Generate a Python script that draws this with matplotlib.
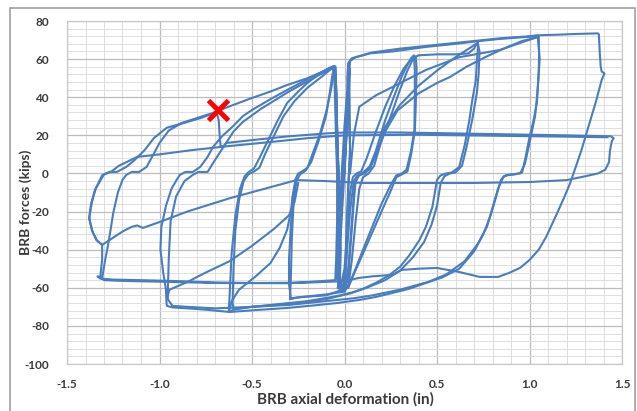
import numpy as np
import matplotlib
matplotlib.use('Agg')
import matplotlib.pyplot as plt
from matplotlib.patches import Rectangle
from matplotlib.ticker import MultipleLocator, FormatStrFormatter

# Force-deformation record of the BRB, one polyline per loading stage (in, kips)
elastic = [(0.0, 0), (0.01, 20), (0.02, 40), (0.025, 52), (0.02, 45), (0.005, 20),
           (-0.01, 0), (-0.02, -25), (-0.03, -45), (-0.035, -52), (-0.025, -40),
           (-0.01, -15), (0.005, 10), (0.02, 35), (0.03, 55), (0.02, 50), (0.0, 25),
           (-0.015, 0), (-0.03, -30), (-0.04, -55), (-0.02, -58)]

cycle_2a = [(-0.02, -58), (0.0, -60), (0.01, -45), (0.03, -20), (0.05, -4), (0.07, -1),
            (0.1, 0), (0.13, 2), (0.17, 12), (0.22, 28), (0.27, 41), (0.31, 51),
            (0.34, 57), (0.36, 60.5), (0.375, 62), (0.38, 55), (0.38, 40), (0.378, 23),
            (0.36, 12), (0.335, 2), (0.31, 0), (0.28, -1), (0.25, -6), (0.2, -16),
            (0.15, -28), (0.1, -40), (0.06, -50), (0.03, -57), (0.0, -62), (-0.1, -63.5),
            (-0.2, -64.5), (-0.29, -65.5), (-0.3, -58), (-0.3, -45), (-0.29, -28),
            (-0.28, -12), (-0.265, -3), (-0.25, 0), (-0.23, 1), (-0.2, 3), (-0.17, 11),
            (-0.135, 20), (-0.1, 32), (-0.075, 43), (-0.06, 51), (-0.05, 56),
            (-0.045, 45), (-0.04, 25), (-0.035, 5), (-0.03, -2), (-0.035, -20),
            (-0.04, -40), (-0.042, -55), (-0.02, -59)]

cycle_2b = [(-0.02, -59), (0.0, -62), (0.02, -50), (0.04, -25), (0.055, -6), (0.075, -1),
            (0.1, 0.5), (0.14, 4), (0.19, 15), (0.25, 30), (0.3, 44), (0.34, 54),
            (0.365, 59), (0.385, 61.5), (0.39, 55), (0.385, 35), (0.38, 22), (0.36, 10),
            (0.34, 1), (0.31, -0.5), (0.28, -2), (0.25, -9), (0.2, -20), (0.15, -31),
            (0.1, -42), (0.05, -53), (0.02, -60), (-0.1, -64), (-0.25, -65),
            (-0.295, -66), (-0.29, -55), (-0.285, -35), (-0.275, -15), (-0.26, -4),
            (-0.24, -0.5), (-0.21, 1.5), (-0.18, 6), (-0.14, 17), (-0.1, 30),
            (-0.08, 42), (-0.065, 52), (-0.055, 56), (-0.048, 52), (-0.043, 35),
            (-0.037, 12), (-0.03, -3), (-0.028, -25), (-0.03, -45), (-0.035, -60)]

cycle_3a = [(-0.035, -60), (-0.02, -59), (0.0, -50), (0.015, -30), (0.03, -10),
            (0.045, -2), (0.065, 0), (0.09, 1), (0.12, 8), (0.17, 22), (0.22, 35),
            (0.27, 46), (0.32, 55), (0.36, 60), (0.4, 62), (0.5, 62.5), (0.6, 62.5),
            (0.67, 63), (0.7, 65.5), (0.72, 69), (0.722, 67), (0.715, 58), (0.71, 49),
            (0.69, 38), (0.675, 28), (0.65, 15), (0.62, 3.4), (0.58, 0.5), (0.55, 0),
            (0.52, -1), (0.5, -3.4), (0.475, -17.6), (0.44, -28), (0.405, -35),
            (0.35, -43), (0.3, -49), (0.24, -53.5), (0.17, -57.4), (0.1, -60.5),
            (0.04, -62.5), (-0.05, -64.5), (-0.2, -67), (-0.35, -68.5), (-0.5, -70),
            (-0.6, -71.5), (-0.62, -72.5), (-0.625, -72), (-0.62, -62), (-0.61, -42),
            (-0.59, -22), (-0.565, -8), (-0.54, -1.5), (-0.515, 1), (-0.49, 2.5),
            (-0.46, 8), (-0.41, 18), (-0.36, 28), (-0.31, 37), (-0.25, 43),
            (-0.2, 47.5), (-0.14, 52), (-0.09, 55), (-0.055, 56.5), (-0.048, 52),
            (-0.043, 35), (-0.037, 12), (-0.03, -3), (-0.028, -25), (-0.03, -45),
            (-0.035, -60)]

cycle_3b = [(-0.035, -60), (0.02, -60), (0.04, -45), (0.06, -25), (0.08, -8), (0.1, -2),
            (0.13, 0), (0.16, 4), (0.19, 14), (0.216, 24), (0.3, 36), (0.4, 46),
            (0.5, 54), (0.6, 61), (0.68, 66), (0.72, 68.5), (0.73, 64), (0.725, 52),
            (0.715, 42), (0.69, 28), (0.66, 14), (0.635, 4), (0.6, 0.5), (0.57, 0),
            (0.54, -1.5), (0.52, -5), (0.5, -17), (0.47, -27), (0.43, -36), (0.37, -44),
            (0.3, -51), (0.22, -56), (0.12, -60), (0.03, -63), (-0.1, -66),
            (-0.3, -68.5), (-0.5, -70), (-0.6, -71), (-0.605, -68), (-0.6, -50),
            (-0.59, -30), (-0.57, -14), (-0.545, -4), (-0.52, -0.5), (-0.49, 1),
            (-0.46, 3), (-0.43, 10), (-0.38, 20), (-0.33, 30), (-0.27, 38), (-0.2, 45),
            (-0.12, 51), (-0.07, 55), (-0.05, 56), (-0.045, 45), (-0.04, 20),
            (-0.035, 0), (-0.03, -20), (-0.035, -45), (-0.035, -60)]

cycle_4a = [(-0.035, -60), (-0.01, -62), (0.005, -48), (0.012, -25), (0.02, -8),
            (0.025, 0), (0.03, 15), (0.02, 35), (0.015, 50), (0.02, 58), (0.04, 60.5),
            (0.1, 62), (0.135, 63), (0.26, 64), (0.44, 66.4), (0.6, 68), (0.71, 69.3),
            (0.83, 70.5), (0.95, 71.4), (1.04, 72), (1.05, 72), (1.052, 63),
            (1.05, 54), (1.04, 37), (1.02, 27), (1.0, 19), (0.98, 9), (0.96, 0.5),
            (0.92, -0.5), (0.87, -1), (0.845, -3.4), (0.82, -12), (0.79, -22),
            (0.75, -32), (0.7, -41), (0.62, -50), (0.53, -54.5), (0.44, -57.5),
            (0.35, -60.5), (0.26, -62.7), (0.17, -64.8), (0.08, -66.4), (-0.04, -68),
            (-0.17, -69.3), (-0.31, -70.6), (-0.45, -71.5), (-0.62, -72.7),
            (-0.75, -71.5), (-0.85, -70.8), (-0.93, -70.3), (-0.96, -69.5),
            (-0.962, -68), (-0.965, -61), (-0.98, -52), (-0.995, -40), (-0.99, -28),
            (-0.965, -17), (-0.935, -8), (-0.905, -3), (-0.89, -0.8), (-0.86, 0.8),
            (-0.82, 0.8), (-0.78, 3.4), (-0.74, 8.7), (-0.71, 14), (-0.66, 19.7),
            (-0.6, 25), (-0.55, 30), (-0.5, 33.3), (-0.4, 39), (-0.31, 43.8),
            (-0.2, 49.5), (-0.1, 54.3), (-0.06, 56), (-0.05, 52), (-0.046, 30),
            (-0.04, 8), (-0.035, -2), (-0.025, -20), (-0.02, -40), (-0.025, -57)]

cycle_4b = [(-0.025, -57), (0.0, -61), (0.02, -55), (0.035, -35), (0.05, -15),
            (0.06, -4), (0.08, -1), (0.11, 0), (0.14, 3), (0.18, 12), (0.22, 22),
            (0.286, 33), (0.4, 42), (0.5, 47.5), (0.57, 50.6), (0.66, 56), (0.76, 61),
            (0.86, 65.5), (0.96, 69.5), (1.045, 71.5), (1.055, 60), (1.045, 45),
            (1.03, 30), (1.0, 16), (0.975, 5), (0.95, 0), (0.9, -0.5), (0.86, -1.5),
            (0.83, -8), (0.8, -18), (0.77, -28), (0.72, -37), (0.65, -46), (0.55, -53),
            (0.45, -57), (0.3, -61), (0.15, -64), (0.05, -65.5), (-0.1, -67),
            (-0.3, -69), (-0.5, -70), (-0.7, -70.8), (-0.85, -70), (-0.93, -69.5),
            (-0.955, -66), (-0.955, -62), (-0.95, -45), (-0.94, -25), (-0.91, -12),
            (-0.865, -4), (-0.82, -0.8), (-0.79, 0.8), (-0.74, 0.8), (-0.71, 5.5),
            (-0.675, 10.8), (-0.64, 16), (-0.6, 22), (-0.55, 27), (-0.45, 34),
            (-0.3, 43), (-0.15, 51), (-0.07, 55), (-0.05, 56), (-0.045, 40),
            (-0.04, 15), (-0.035, -5), (-0.03, -30), (-0.03, -58)]

cycle_4c = [(0.03, 0), (0.05, 20), (0.08, 35), (0.17, 41), (0.26, 45.4), (0.44, 54.3),
            (0.62, 61), (0.84, 64.8), (0.95, 68.5), (1.04, 71.5)]

cycle_5 = [(-0.03, -58), (0.0, -60), (0.01, -45), (0.018, -20), (0.022, -3),
           (0.03, 10), (0.028, 35), (0.025, 52), (0.03, 59), (0.06, 61), (0.15, 63.5),
           (0.3, 65.5), (0.5, 67.5), (0.7, 69.5), (0.85, 71), (1.0, 72), (1.04, 72.5),
           (1.15, 72.8), (1.25, 73.2), (1.37, 73.5), (1.375, 73), (1.38, 63),
           (1.385, 56), (1.39, 53.5), (1.405, 52.5), (1.39, 49), (1.36, 38),
           (1.32, 25), (1.28, 12), (1.245, 2), (1.22, -5), (1.19, -12), (1.15, -20.7),
           (1.09, -33.3), (1.05, -40), (1.0, -45.4), (0.95, -49.5), (0.89, -52.2),
           (0.83, -54.3), (0.73, -54.3), (0.62, -51.7), (0.5, -49.6), (0.4, -50),
           (0.31, -50.6), (0.26, -53.2), (0.15, -54), (0.08, -54.8), (0.0, -56.5),
           (-0.2, -57.3), (-0.5, -57.5), (-0.7, -57.2), (-0.9, -56.5), (-1.1, -56),
           (-1.25, -55.7), (-1.32, -55.2), (-1.335, -54), (-1.31, -55),
           (-1.295, -46), (-1.28, -38.6), (-1.265, -30), (-1.25, -20.7),
           (-1.225, -10), (-1.2, -3.4), (-1.18, -0.8), (-1.15, 0.8), (-1.11, 0.8),
           (-1.07, 3.4), (-1.04, 8.7), (-1.0, 16), (-0.95, 22.5), (-0.88, 26.5),
           (-0.8, 29), (-0.72, 31.5), (-0.6, 36), (-0.5, 39.6), (-0.4, 43),
           (-0.31, 46.4), (-0.2, 50), (-0.135, 52.7), (-0.065, 56), (-0.055, 52),
           (-0.05, 35), (-0.045, 15), (-0.04, 0), (-0.04, -25), (-0.045, -45),
           (-0.05, -56), (-0.3, -57.6), (-0.7, -57.5), (-1.0, -56.8), (-1.2, -56.4),
           (-1.3, -56), (-1.32, -54), (-1.31, -45), (-1.31, -37.5), (-1.34, -35),
           (-1.36, -31), (-1.38, -24), (-1.37, -16), (-1.35, -9), (-1.31, -1),
           (-1.27, 0.8), (-1.23, 0.8), (-1.18, 3.4), (-1.135, 7), (-1.08, 12.3),
           (-1.03, 18.6), (-0.96, 24), (-0.85, 27), (-0.78, 29), (-0.73, 30.7),
           (-0.69, 31.5)]

after_fracture = [(-0.69, 31.5), (-0.68, 28), (-0.675, 20), (-0.67, 14.5), (-0.655, 14.2),
                  (-0.64, 16), (-0.5, 17.5), (-0.3, 19.5), (-0.1, 21), (0.0, 21.5),
                  (0.3, 21.5), (0.6, 21), (0.9, 20.5), (1.2, 20), (1.44, 19.5),
                  (1.455, 18.5), (1.445, 17), (1.435, 12), (1.43, 6), (1.41, 2),
                  (1.37, 0), (1.3, -1.5), (1.2, -3.5), (1.0, -4.5), (0.7, -5), (0.4, -5),
                  (0.1, -5), (0.0, -4.5), (-0.1, -4), (-0.26, -3.5), (-0.62, -13),
                  (-0.85, -20), (-1.0, -25.5), (-1.09, -28.6), (-1.12, -27.3),
                  (-1.15, -28), (-1.2, -30.5), (-1.31, -37.5), (-1.34, -35),
                  (-1.365, -30), (-1.38, -23), (-1.365, -15), (-1.345, -8), (-1.3, -0.5),
                  (-1.26, 1), (-1.22, 4), (-1.12, 8.7), (-1.0, 10), (-0.82, 12.3),
                  (-0.62, 14.4), (-0.4, 16.5), (-0.2, 18.5), (0.0, 20), (0.4, 20.3),
                  (0.8, 19.8), (1.2, 19.3), (1.42, 19)]

branch_c3 = [(-0.26, -3), (-0.28, -12), (-0.29, -20), (-0.31, -29.6), (-0.35, -39),
             (-0.4, -47), (-0.48, -54), (-0.57, -61), (-0.61, -67), (-0.62, -71)]

branch_c4 = [(-0.25, -5), (-0.27, -15), (-0.3, -22), (-0.38, -29), (-0.5, -38),
             (-0.62, -46), (-0.75, -52), (-0.85, -57), (-0.946, -61), (-0.955, -64)]

paths = [elastic, cycle_2a, cycle_2b, cycle_3a, cycle_3b, cycle_4a, cycle_4b,
         cycle_4c, cycle_5, after_fracture, branch_c3, branch_c4]

fracture_point = (-0.686, 33.3)

line_color = '#4a7dbf'
text_color = '#3a3a3a'

plt.rcParams['font.family'] = ['Lato', 'DejaVu Sans']
plt.rcParams['axes.unicode_minus'] = False

fig = plt.figure(figsize=(6.37, 4.11), dpi=100)
ax = fig.add_axes([67 / 637, 1 - 364 / 411, (622 - 67) / 637, (364 - 21) / 411])

for p in paths:
    arr = np.array(p)
    ax.plot(arr[:, 0], arr[:, 1], color=line_color, lw=1.5, solid_joinstyle='round',
            zorder=3)

ax.plot(*fracture_point, marker='x', color='#ff0000', markersize=15, mew=3.5,
        zorder=5)

ax.set_xlim(-1.5, 1.5)
ax.set_ylim(-100, 80)
ax.xaxis.set_major_locator(MultipleLocator(0.5))
ax.xaxis.set_minor_locator(MultipleLocator(0.1))
ax.yaxis.set_major_locator(MultipleLocator(20))
ax.yaxis.set_minor_locator(MultipleLocator(4))
ax.xaxis.set_major_formatter(FormatStrFormatter('%.1f'))
ax.grid(which='major', color='#bcbcbc', lw=0.9, zorder=0)
ax.grid(which='minor', color='#dedede', lw=0.7, zorder=0)
ax.set_axisbelow(True)
for s in ax.spines.values():
    s.set_color('#c8c8c8')
    s.set_linewidth(0.9)
ax.tick_params(which='both', length=0)
ax.tick_params(axis='x', pad=11, labelsize=8.5, labelcolor=text_color)
ax.tick_params(axis='y', pad=13, labelsize=8.5, labelcolor=text_color)
for lab in ax.get_xticklabels() + ax.get_yticklabels():
    lab.set_fontweight('bold')

fig.text(345 / 637, 1 - 399 / 411, 'BRB axial deformation (in)', ha='center',
         va='center', fontsize=11, fontweight='bold', color=text_color)
fig.text(26 / 637, 1 - 202 / 411, 'BRB forces (kips)', ha='center', va='center',
         rotation=90, fontsize=10, fontweight='bold', color=text_color)

# chart area border
fig.add_artist(Rectangle((10 / 637, -0.05), (635 - 10) / 637, 1.05 - 8 / 411,
                         transform=fig.transFigure, fill=False,
                         edgecolor='#a0a0a0', lw=1.2))

fig.savefig('out.png', dpi=100)
